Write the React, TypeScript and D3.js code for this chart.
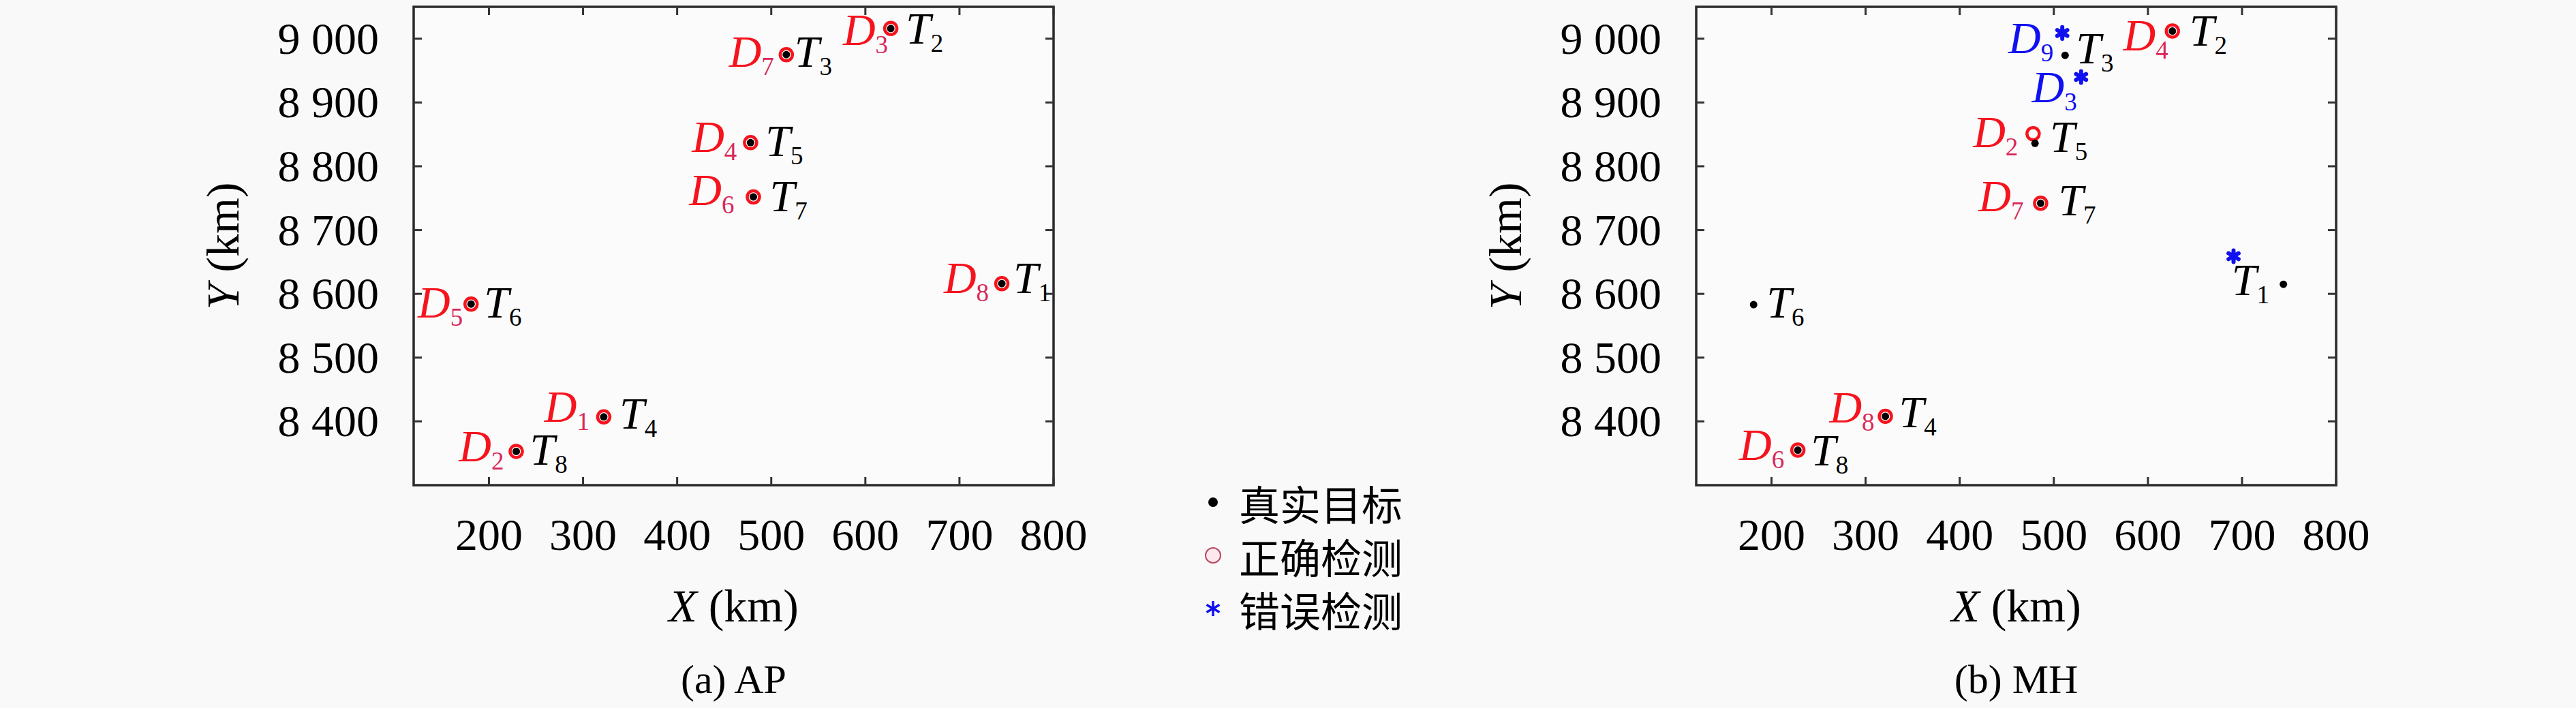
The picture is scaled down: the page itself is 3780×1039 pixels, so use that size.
import React from "react";
import * as d3 from "d3";

const W = 3780;
const H = 1039;

// axes
const xDomain = [120, 800];
const yDomain = [8300, 9050];
const xTicks = [200, 300, 400, 500, 600, 700, 800];
const yTicks = [8400, 8500, 8600, 8700, 8800, 8900, 9000];

// (a) AP  -- true targets T1..T8
const apTargetX = [745, 627, 516, 322, 478, 181, 481, 229];
const apTargetY = [8616, 9016, 8975, 8407, 8837, 8584, 8752, 8353];
// correct detections D1..D8
const apCorrectId = [1, 2, 3, 4, 5, 6, 7, 8];
const apCorrectX = [322, 229, 627, 478, 181, 481, 516, 745];
const apCorrectY = [8407, 8353, 9016, 8837, 8584, 8752, 8975, 8616];
const apWrongId: number[] = [];
const apWrongX: number[] = [];
const apWrongY: number[] = [];

// (b) MH
const mhTargetX = [744, 626, 512, 321, 480, 181, 486, 228];
const mhTargetY = [8615, 9012, 8974, 8408, 8836, 8583, 8742, 8355];
const mhCorrectId = [2, 4, 6, 7, 8];
const mhCorrectX = [478, 626, 228, 486, 321];
const mhCorrectY = [8851, 9012, 8355, 8742, 8408];
const mhWrongId = [9, 3, 0]; // 0 = no label
const mhWrongX = [509, 529, 691];
const mhWrongY = [9009, 8940, 8659];

const legendLabels = ["真实目标", "正确检测", "错误检测"];

// label placement (pixel offset of the label from its marker)
type Place = [number, number];
const apTPlace: Record<number, Place> = {
  1: [17, 14], 2: [22, 22], 3: [12, 18], 4: [23, 17],
  5: [22, 20], 6: [19, 20], 7: [24, 21], 8: [20, 20],
};
const apDPlace: Record<number, Place> = {
  1: [-21, 7], 2: [-18, 15], 3: [-4, 24], 4: [-20, 14],
  5: [-12, 20], 6: [-28, 12], 7: [-18, 18], 8: [-19, 14],
};
const mhTPlace: Record<number, Place> = {
  1: [-76, 16], 2: [25, 21], 3: [16, 12], 4: [20, 16],
  5: [22, 13], 6: [19, 19], 7: [26, 18], 8: [19, 22],
};
const mhDPlace: Record<number, Place> = {
  2: [-22, 20], 3: [-6, 37], 4: [-6, 28], 6: [-20, 14],
  7: [-25, 12], 8: [-16, 9], 9: [-13, 30],
};

const SERIF = "'Liberation Serif', 'Times New Roman', serif";
const RED = "#f5141e";
const RED_SUB = "#d9285a";
const BLUE = "#1010f0";

const fmt = d3.formatLocale({ decimal: ".", thousands: " ", grouping: [3], currency: ["", ""] }).format(",d");

const star = d3.symbol().type(d3.symbolAsterisk);

const Label = ({ x, y, letter, sub, anchor, fill, subFill }: any) => (
  <text x={x} y={y} textAnchor={anchor} fontFamily={SERIF} fontSize={66}>
    <tspan fontStyle="italic" fill={fill}>{letter}</tspan>
    <tspan fontSize={37} dy={12} fill={subFill}>{sub}</tspan>
  </text>
);

function Panel({ left, caption, tX, tY, cId, cX, cY, wId, wX, wY, tPlace, dPlace }: any) {
  const plotW = 939;
  const top = 10;
  const bottom = 712;
  const x = d3.scaleLinear().domain(xDomain).range([left, left + plotW]);
  const y = d3.scaleLinear().domain(yDomain).range([bottom, top]);
  const tick = 12;
  const cx = left + plotW / 2;

  return (
    <g>
      <rect x={left} y={top} width={plotW} height={bottom - top} fill="#fbfbfb" stroke="#2a2a2a" strokeWidth={3.5} />
      {xTicks.map((t) => (
        <g key={"x" + t} stroke="#333" strokeWidth={3}>
          <line x1={x(t)} x2={x(t)} y1={bottom} y2={bottom - tick} />
          <line x1={x(t)} x2={x(t)} y1={top} y2={top + tick} />
        </g>
      ))}
      {yTicks.map((t) => (
        <g key={"y" + t} stroke="#333" strokeWidth={3}>
          <line x1={left} x2={left + tick} y1={y(t)} y2={y(t)} />
          <line x1={left + plotW} x2={left + plotW - tick} y1={y(t)} y2={y(t)} />
        </g>
      ))}
      {xTicks.map((t) => (
        <text key={"xl" + t} x={x(t)} y={807} textAnchor="middle" fontFamily={SERIF} fontSize={66} fill="#000">
          {t}
        </text>
      ))}
      {yTicks.map((t) => (
        <text key={"yl" + t} x={left - 51} y={y(t) + 22} textAnchor="end" fontFamily={SERIF} fontSize={66} fill="#000">
          {fmt(t)}
        </text>
      ))}
      <text x={cx} y={912} textAnchor="middle" fontFamily={SERIF} fontSize={68}>
        <tspan fontStyle="italic">X</tspan> (km)
      </text>
      <text
        transform={`translate(${left - 257},${(top + bottom) / 2}) rotate(-90)`}
        textAnchor="middle"
        fontFamily={SERIF}
        fontSize={68}
      >
        <tspan fontStyle="italic">Y</tspan> (km)
      </text>
      <text x={cx} y={1017} textAnchor="middle" fontFamily={SERIF} fontSize={60}>
        {caption}
      </text>

      {/* correct detections */}
      {cId.map((id: number, i: number) => (
        <circle key={"c" + id} cx={x(cX[i])} cy={y(cY[i])} r={9} fill="none" stroke={RED} strokeWidth={4.5} />
      ))}
      {/* wrong detections */}
      {wId.map((id: number, i: number) => (
        <path
          key={"w" + i}
          d={star.size(205)() as string}
          transform={`translate(${x(wX[i])},${y(wY[i])})`}
          fill="none"
          stroke={BLUE}
          strokeWidth={6}
          strokeLinecap="round"
        />
      ))}
      {/* true targets */}
      {tX.map((v: number, i: number) => (
        <circle key={"t" + i} cx={x(v)} cy={y(tY[i])} r={5.5} fill="#000" />
      ))}

      {/* labels */}
      {tX.map((v: number, i: number) => {
        const p = tPlace[i + 1];
        return (
          <Label key={"tl" + i} x={x(v) + p[0]} y={y(tY[i]) + p[1]} letter="T" sub={i + 1} anchor="start" fill="#000" subFill="#000" />
        );
      })}
      {cId.map((id: number, i: number) => {
        const p = dPlace[id];
        return (
          <Label key={"cl" + id} x={x(cX[i]) + p[0]} y={y(cY[i]) + p[1]} letter="D" sub={id} anchor="end" fill={RED} subFill={RED_SUB} />
        );
      })}
      {wId.map((id: number, i: number) => {
        if (!id) return null;
        const p = dPlace[id];
        return (
          <Label key={"wl" + id} x={x(wX[i]) + p[0]} y={y(wY[i]) + p[1]} letter="D" sub={id} anchor="end" fill={BLUE} subFill={BLUE} />
        );
      })}
    </g>
  );
}

export default function App() {
  const legendX = 1780;
  const legendY = d3.scalePoint<number>().domain([0, 1, 2]).range([737, 893]);
  return (
    <svg width={W} height={H} style={{ display: "block", position: "absolute", left: 0, top: 0 }}>
      <style>{`body{margin:0;background:#f9f9f9}`}</style>
      <rect width={W} height={H} fill="#f9f9f9" />
      <Panel
        left={607}
        caption="(a) AP"
        tX={apTargetX}
        tY={apTargetY}
        cId={apCorrectId}
        cX={apCorrectX}
        cY={apCorrectY}
        wId={apWrongId}
        wX={apWrongX}
        wY={apWrongY}
        tPlace={apTPlace}
        dPlace={apDPlace}
      />
      <Panel
        left={2489}
        caption="(b) MH"
        tX={mhTargetX}
        tY={mhTargetY}
        cId={mhCorrectId}
        cX={mhCorrectX}
        cY={mhCorrectY}
        wId={mhWrongId}
        wX={mhWrongX}
        wY={mhWrongY}
        tPlace={mhTPlace}
        dPlace={mhDPlace}
      />
      {/* legend */}
      <circle cx={legendX} cy={legendY(0)} r={7} fill="#000" />
      <circle cx={legendX} cy={legendY(1)} r={11} fill="#fde8ee" stroke="#b84a62" strokeWidth={2} />
      <path
        d={star.size(340)() as string}
        transform={`translate(${legendX},${legendY(2)})`}
        fill="none"
        stroke={BLUE}
        strokeWidth={3.5}
      />
      {legendLabels.map((t, i) => (
        <text
          key={t}
          x={legendX + 38}
          y={legendY(i)}
          dominantBaseline="central"
          fontFamily="'Noto Sans CJK SC', sans-serif"
          fontSize={60}
          fill="#000"
        >
          {t}
        </text>
      ))}
    </svg>
  );
}
